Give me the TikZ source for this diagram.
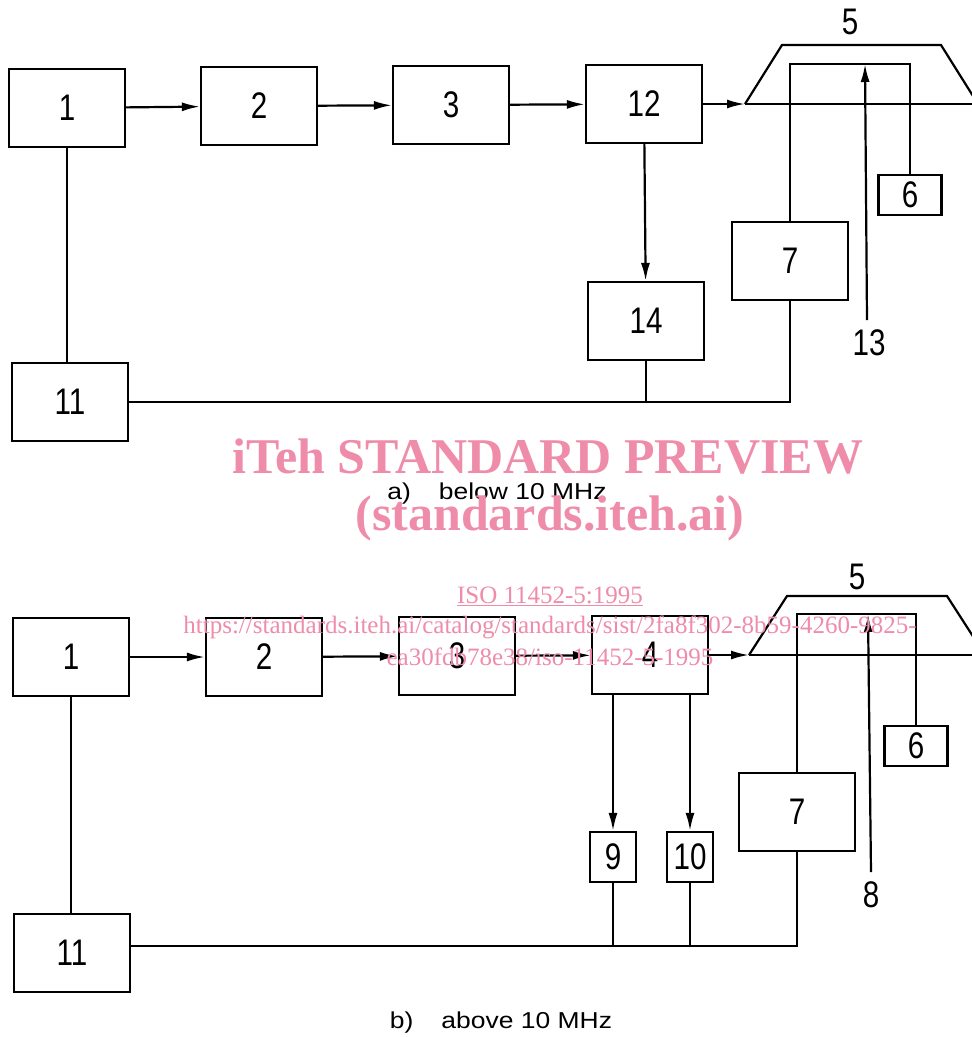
\documentclass[tikz,border=0pt]{standalone}
\usepackage{fontspec}
\setmainfont{Liberation Sans}
\newfontfamily\digitfont[FakeStretch=0.8]{Liberation Sans}
\newfontfamily\capfont[FakeStretch=1.15]{Liberation Sans}
\newfontfamily\wmfont{Liberation Serif}
\usetikzlibrary{arrows.meta}
\definecolor{wmpink}{RGB}{238,140,170}

\begin{document}
\begin{tikzpicture}[x=1pt,y=-1pt,line width=2.2pt,
  blk/.style={draw, inner sep=0pt, minimum width=116pt, minimum height=78pt, font=\fontsize{37}{40}\digitfont},
  sblk/.style={blk, minimum width=63pt, minimum height=40pt},
  nblk/.style={blk, minimum width=46pt, minimum height=50pt},
  lbl/.style={font=\fontsize{37}{40}\digitfont},
  captext/.style={font=\fontsize{23}{26}\capfont},
  arr/.style={-{Latex[length=18pt,width=9pt]}},
  wmbig/.style={text=wmpink, font=\fontsize{50}{54}\wmfont\bfseries},
  wmsmall/.style={text=wmpink, font=\fontsize{25}{28}\wmfont}]
\useasboundingbox (0,0) rectangle (972,1037);

% a) below 10 MHz
\node[blk] (a1) at (67,108) {1};
\node[blk] (a2) at (259,106) {2};
\node[blk] (a3) at (451,105) {3};
\node[blk] (a12) at (644,104) {12};
\node[blk] (a14) at (646,321) {14};
\node[blk] (a11) at (70,402) {11};
\node[blk] (a7) at (790,261) {7};
\node[sblk] (a6) at (910,195) {6};

\coordinate (af) at (745,104);
\coordinate (aout) at (990,104);
\coordinate (a13) at (867,320);

\draw (af)--(782,45)--(941,45)--(978,104);
\draw (af)--(aout);
\draw (a7.north)--(a7.north |- 0,64)--(a6.north |- 0,64)--(a6.north);

\draw[arr] (a1)--(a2);
\draw[arr] (a2)--(a3);
\draw[arr] (a3)--(a12);
\draw[arr] (a12)--(af);
\draw[arr] (a12)--(a14);
\draw[arr] (a13)--(865,64);

\draw (a1.south)--(a1.south |- a11.north);
\draw (a11.east)--(a7.south |- a11.east)--(a7.south);
\draw (a14.south)--(a14.south |- a11.east);

\node[lbl] (a5l) at (850,22) {5};
\node[lbl] (a13l) at (869,343) {13};
\node[captext] (acap) at (497,494) {a)\hspace{28pt}below 10 MHz};

% b) above 10 MHz
\node[blk] (b1) at (71,657) {1};
\node[blk] (b2) at (264,657) {2};
\node[blk] (b3) at (457,656) {3};
\node[blk] (b4) at (650,655) {4};
\node[blk] (b11) at (72,953) {11};
\node[blk] (b7) at (797,812) {7};
\node[sblk] (b6) at (916,746) {6};
\node[nblk] (b9) at (613,857) {9};
\node[nblk] (b10) at (690,857) {10};

\coordinate (bf) at (749,655);
\coordinate (bout) at (990,655);
\coordinate (b8) at (871,872);

\draw (bf)--(787,596)--(947,596)--(985,655);
\draw (bf)--(bout);
\draw (b7.north)--(b7.north |- 0,614)--(b6.north |- 0,614)--(b6.north);

\draw[arr] (b1)--(b2);
\draw[arr] (b2)--(b3);
\draw[arr] (b3)--(b4);
\draw[arr] (b4)--(bf);
\draw[arr] (b9.north |- b4.south)--(b9.north);
\draw[arr] (b10.north |- b4.south)--(b10.north);
\draw[arr] (b8)--(868,614);

\draw (b1.south)--(b1.south |- b11.north);
\draw (b11.east |- 0,946)--(b7.south |- 0,946)--(b7.south);
\draw (b9.south)--(b9.south |- 0,946);
\draw (b10.south)--(b10.south |- 0,946);

\node[lbl] (b5l) at (857,577) {5};
\node[lbl] (b8l) at (871,895) {8};
\node[captext] (bcap) at (501,1023) {b)\hspace{28pt}above 10 MHz};

% watermark
\node[wmbig] (wm1) at (548,457) {iTeh STANDARD PREVIEW};
\node[wmbig] (wm2) at (550,518) {(standards.iteh.ai)};
\node[wmsmall] (wm3) at (550,596) {\underline{ISO 11452-5:1995}};
\node[wmsmall] (wm4) at (550,627) {https://standards.iteh.ai/catalog/standards/sist/2fa8f302-8b59-4260-9825-};
\node[wmsmall] (wm5) at (550,657) {ea30fdb78e38/iso-11452-5-1995};
\end{tikzpicture}
\end{document}
